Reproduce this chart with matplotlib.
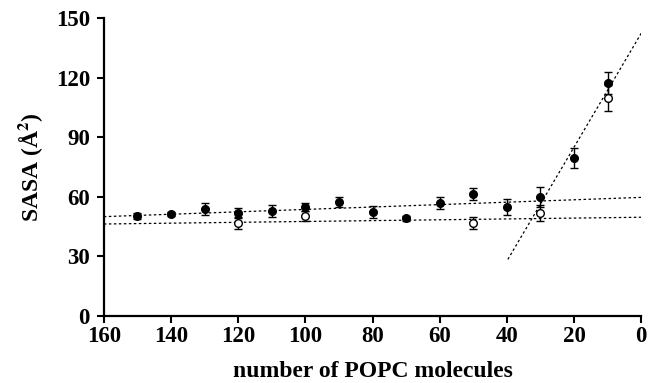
import numpy as np
import matplotlib
matplotlib.use('Agg')
import matplotlib.pyplot as plt

plt.rcParams['font.family'] = ['Liberation Serif', 'DejaVu Serif']
plt.rcParams['mathtext.fontset'] = 'stix'

# filled circles
n_filled = [150, 140, 130, 120, 110, 100, 90, 80, 70, 60, 50, 40, 30, 20, 10]
sasa_filled = [50.5, 51.3, 53.7, 52.0, 52.8, 55.0, 57.4, 52.3, 49.2, 57.0, 61.4, 54.7, 60.0, 79.5, 117.1]
err_filled = [1.5, 1.2, 3.0, 2.5, 3.0, 2.0, 2.5, 3.0, 1.2, 3.0, 3.0, 4.0, 5.0, 5.0, 5.5]

# open circles
n_open = [120, 100, 50, 30, 10]
sasa_open = [47.0, 50.3, 46.6, 51.7, 109.9]
err_open = [3.0, 2.5, 3.0, 4.0, 6.5]

# dotted fit lines (end points)
fit_hi_x = [160, 0]
fit_hi_y = [50.0, 59.7]
fit_lo_x = [160, 0]
fit_lo_y = [46.3, 49.7]
fit_steep_x = [39.7, 0]
fit_steep_y = [28.5, 142.3]

fig = plt.figure(figsize=(6.49, 3.83), dpi=100)
ax = fig.add_axes([0.160, 0.175, 0.828, 0.778])

dot = (0, (2, 2))
ax.plot(fit_hi_x, fit_hi_y, color='black', lw=0.9, ls=dot)
ax.plot(fit_lo_x, fit_lo_y, color='black', lw=0.9, ls=dot)
ax.plot(fit_steep_x, fit_steep_y, color='black', lw=0.9, ls=dot)

ax.errorbar(n_filled, sasa_filled, yerr=err_filled, fmt='o', color='black',
            markersize=5.5, elinewidth=1, capsize=3, capthick=1, zorder=3)
ax.errorbar(n_open, sasa_open, yerr=err_open, fmt='o', color='black',
            mfc='white', mec='black', mew=1, markersize=5.5,
            elinewidth=1, capsize=3, capthick=1, zorder=3)

ax.set_xlim(160, 0)
ax.set_ylim(0, 150)
ax.set_xticks(np.arange(160, -1, -20))
ax.set_yticks(np.arange(0, 151, 30))

for s in ['top', 'right']:
    ax.spines[s].set_visible(False)
for s in ['left', 'bottom']:
    ax.spines[s].set_linewidth(1.6)

ax.tick_params(axis='both', direction='out', length=5, width=1.5,
               labelsize=16.5)
ax.tick_params(axis='y', pad=5)
ax.tick_params(axis='x', pad=2)
for lab in ax.get_xticklabels() + ax.get_yticklabels():
    lab.set_fontweight('bold')

ax.set_xlabel('number of POPC molecules', fontsize=17, fontweight='bold', labelpad=10)
ax.set_ylabel(r'SASA (Å$^\mathbf{2}$)', fontsize=17, fontweight='bold', labelpad=8)

fig.savefig('out.png', dpi=100)
